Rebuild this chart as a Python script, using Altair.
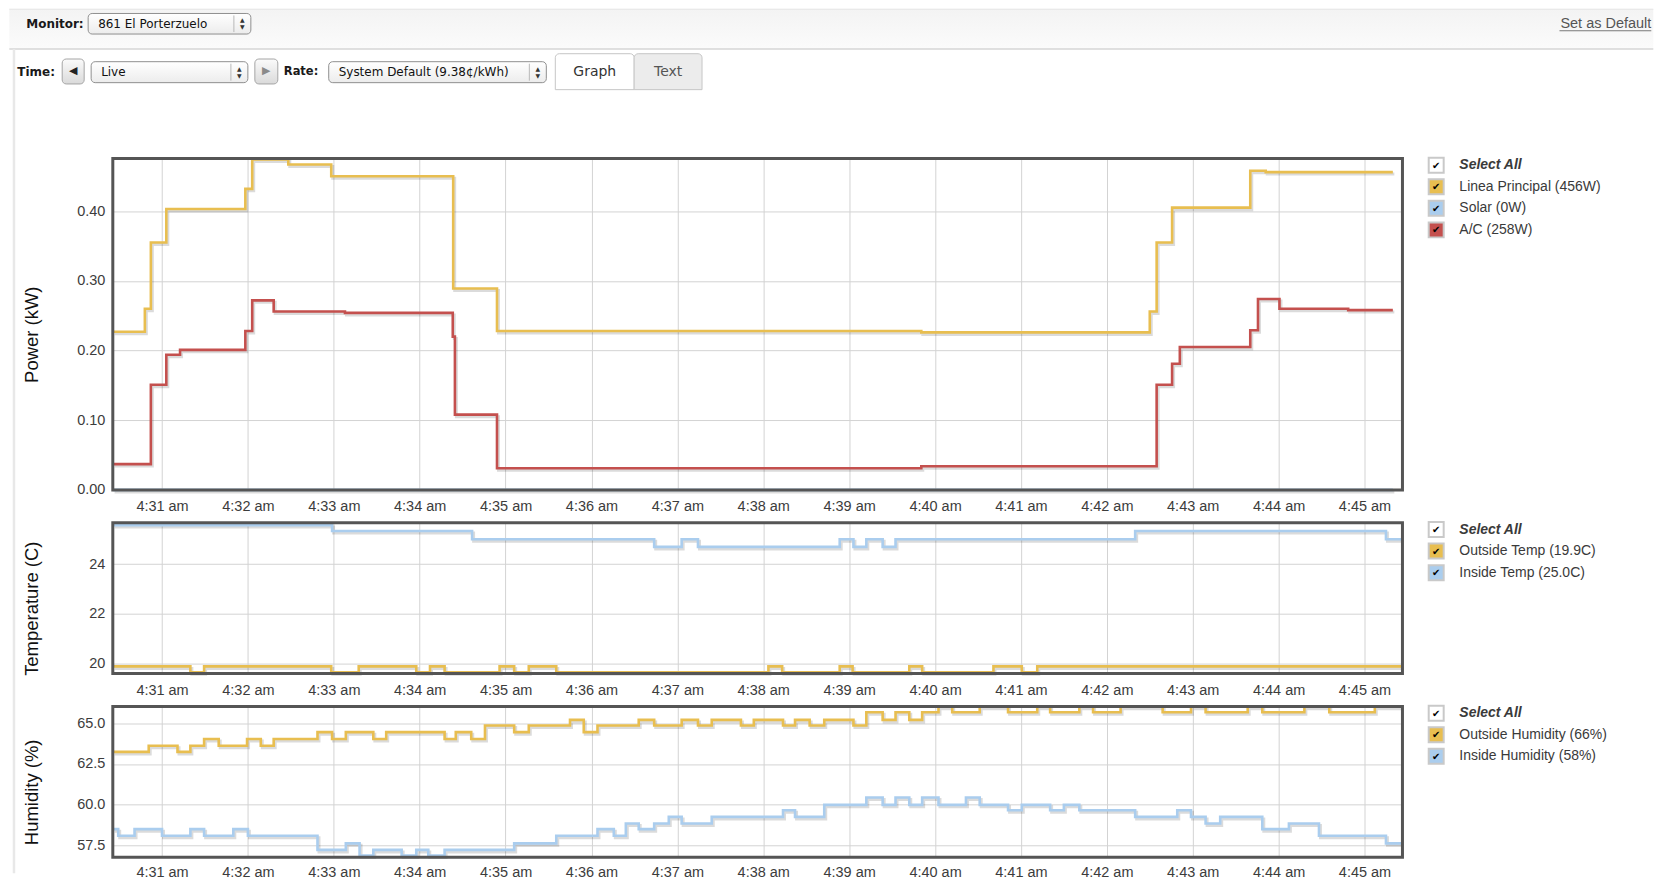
import altair as alt
import pandas as pd

# ---------------- time axis: minutes after 4:30 am ----------------
x_domain = [0.427, 15.442]
x_ticks = list(range(1, 16))          # 4:31 am ... 4:45 am

# ---------------- Power (kW) ----------------
linea_t = [0.43, 0.80, 0.87, 1.05, 1.97, 2.05, 2.47, 2.97, 4.39, 4.90, 9.84,
           12.50, 12.58, 12.76, 13.67, 13.85, 15.33]
linea_kw = [0.227, 0.260, 0.355, 0.403, 0.432, 0.474, 0.467, 0.450, 0.289, 0.228, 0.226,
            0.256, 0.355, 0.405, 0.458, 0.456, 0.456]
solar_t = [0.43, 15.33]
solar_kw = [0.0, 0.0]
ac_t = [0.43, 0.87, 1.05, 1.21, 1.97, 2.05, 2.30, 3.13, 4.385, 4.41, 4.90, 9.84,
        12.58, 12.76, 12.85, 13.67, 13.76, 14.01, 14.81, 15.33]
ac_kw = [0.037, 0.151, 0.194, 0.201, 0.228, 0.272, 0.256, 0.254, 0.220, 0.108, 0.031, 0.034,
         0.151, 0.181, 0.205, 0.229, 0.274, 0.260, 0.258, 0.258]

# ---------------- Temperature (C) ----------------
out_temp_t = [0.43, 1.33, 1.49, 2.97, 3.29, 3.96, 4.12, 4.29, 4.93, 5.10, 5.27, 5.59,
              8.06, 8.22, 8.89, 9.04, 9.70, 9.85, 10.68, 11.01, 11.19, 15.44]
out_temp_c = [19.87, 19.63, 19.87, 19.63, 19.87, 19.63, 19.87, 19.63, 19.87, 19.63, 19.87, 19.63,
              19.87, 19.63, 19.87, 19.63, 19.87, 19.63, 19.87, 19.63, 19.87, 19.87]
in_temp_t = [0.43, 2.98, 4.61, 6.73, 7.05, 7.24, 8.89, 9.05, 9.20, 9.39, 9.54, 12.33, 15.25, 15.44]
in_temp_c = [25.57, 25.33, 25.0, 24.69, 25.0, 24.69, 25.0, 24.69, 25.0, 24.69, 25.0, 25.33, 25.0, 25.0]

# ---------------- Humidity (%) ----------------
out_hum_t = [0.43, 0.845, 1.18, 1.33, 1.49, 1.66, 1.99, 2.15, 2.30, 2.81, 2.98, 3.14, 3.46, 3.61,
             4.29, 4.42, 4.60, 4.76, 5.10, 5.27, 5.75, 5.91, 6.07, 6.55, 6.73, 7.05, 7.24, 7.40,
             7.74, 7.89, 8.23, 8.37, 8.54, 8.71, 9.05, 9.20, 9.39, 9.54, 9.70, 9.85, 10.04, 10.20,
             10.52, 10.85, 11.19, 11.34, 11.68, 11.84, 12.16, 12.65, 12.98, 13.15, 13.64, 13.81,
             14.30, 14.59, 15.12, 15.44]
out_hum_pct = [63.24, 63.62, 63.24, 63.62, 64.03, 63.62, 64.03, 63.62, 64.03, 64.45, 64.03, 64.45,
               64.03, 64.45, 64.03, 64.45, 64.03, 64.86, 64.45, 64.86, 65.2, 64.45, 64.86, 65.2,
               64.86, 65.2, 64.86, 65.2, 64.86, 65.2, 64.86, 65.2, 64.86, 65.2, 64.86, 65.67,
               65.2, 65.67, 65.2, 65.67, 66.01, 65.67, 66.01, 65.67, 66.01, 65.67, 66.01, 65.67,
               66.01, 65.67, 66.01, 65.67, 66.01, 65.67, 66.01, 65.67, 66.01, 66.01]
in_hum_t = [0.43, 0.49, 0.68, 1.00, 1.33, 1.49, 1.83, 2.00, 2.81, 3.14, 3.30, 3.46, 3.79, 3.96,
            4.10, 4.29, 5.10, 5.59, 6.07, 6.26, 6.40, 6.55, 6.73, 6.90, 7.05, 7.40, 8.23, 8.37,
            8.71, 9.20, 9.39, 9.54, 9.70, 9.85, 10.04, 10.36, 10.52, 10.85, 11.01, 11.34, 11.50,
            11.68, 12.33, 12.82, 12.98, 13.15, 13.32, 13.81, 14.12, 14.47, 15.25, 15.44]
in_hum_pct = [58.51, 58.11, 58.51, 58.11, 58.51, 58.11, 58.51, 58.11, 57.24, 57.64, 56.89, 57.24,
              56.89, 57.24, 56.89, 57.24, 57.64, 58.11, 58.51, 58.11, 58.86, 58.51, 58.86, 59.26,
              58.86, 59.26, 59.67, 59.26, 60.0, 60.45, 60.0, 60.45, 60.0, 60.45, 60.0, 60.45,
              60.0, 59.67, 60.0, 59.67, 60.0, 59.67, 59.26, 59.67, 59.26, 58.86, 59.26, 58.51,
              58.86, 58.11, 57.64, 57.64]

YELLOW, BLUE, RED = "#E8BE50", "#AACDEE", "#C4504E"

power_series = ["Solar", "A/C", "Linea Principal"]
power_colors = [BLUE, RED, YELLOW]
power_legend = ["Select All", "Linea Principal (456W)", "Solar (0W)", "A/C (258W)"]
power_legend_colors = ["#FFFFFF", YELLOW, BLUE, RED]

temp_series = ["Inside Temp", "Outside Temp"]
temp_colors = [BLUE, YELLOW]
temp_legend = ["Select All", "Outside Temp (19.9C)", "Inside Temp (25.0C)"]
temp_legend_colors = ["#FFFFFF", YELLOW, BLUE]

hum_series = ["Inside Humidity", "Outside Humidity"]
hum_colors = [BLUE, YELLOW]
hum_legend = ["Select All", "Outside Humidity (66%)", "Inside Humidity (58%)"]
hum_legend_colors = ["#FFFFFF", YELLOW, BLUE]

# header texts
monitor_label = "Monitor:"
monitor_value = "861 El Porterzuelo"
default_link = "Set as Default"
time_label = "Time:"
time_value = "Live"
rate_label = "Rate:"
rate_value = "System Default (9.38¢/kWh)"
tab_labels = ["Graph", "Text"]


def long_frame(names, colors, parts):
    rows = []
    for name, col, (ts, vs) in zip(names, colors, parts):
        for t, v in zip(ts, vs):
            rows.append({"t": t, "v": v, "series": name, "hue": col})
    return pd.DataFrame(rows)


power_df = long_frame(power_series, power_colors,
                      [(solar_t, solar_kw), (ac_t, ac_kw), (linea_t, linea_kw)])
temp_df = long_frame(temp_series, temp_colors,
                     [(in_temp_t, in_temp_c), (out_temp_t, out_temp_c)])
hum_df = long_frame(hum_series, hum_colors,
                    [(in_hum_t, in_hum_pct), (out_hum_t, out_hum_pct)])

# ---------------- layout ----------------
LEFT, TOP = 111.7, 8.0
W = 1292
H0, H1, H2, H3 = 117, 332, 151, 151
GAP = 33
HEAD_FONT = "DejaVu Sans"
FONT = "Liberation Sans"


def X(px):
    return round(px - LEFT, 2)


def Y(py):
    return round(py - TOP, 2)


def one(val="x"):
    return pd.DataFrame({"s": [val]})


def text_at(s, x, y, **kw):
    return alt.Chart(one(s)).mark_text(**kw).encode(text="s:N", x=alt.value(x), y=alt.value(y))


def rect_at(x1, x2, y1, y2, **kw):
    return alt.Chart(one()).mark_rect(**kw).encode(
        x=alt.value(x1), x2=alt.value(x2), y=alt.value(y1), y2=alt.value(y2))


def rule_at(x1, x2, y1, y2, **kw):
    return alt.Chart(one()).mark_rule(**kw).encode(
        x=alt.value(x1), x2=alt.value(x2), y=alt.value(y1), y2=alt.value(y2))


def grad(c1, c2):
    return {"gradient": "linear", "x1": 0, "x2": 0, "y1": 0, "y2": 1,
            "stops": [{"offset": 0, "color": c1}, {"offset": 1, "color": c2}]}


def dropdown(px1, px2, py1, py2, label):
    cy = (py1 + py2) / 2
    return [
        rect_at(X(px1), X(px2), Y(py1), Y(py2), fill=grad("#ffffff", "#ececec"),
                stroke="#8f8f8f", strokeWidth=1, cornerRadius=4),
        text_at(label, X(px1 + 10), Y(cy), align="left", baseline="middle",
                font=HEAD_FONT, fontSize=12, color="#111111"),
        rule_at(X(px2 - 17), X(px2 - 17), Y(py1 + 2), Y(py2 - 2), color="#b8b8b8", strokeWidth=1),
        text_at("▲", X(px2 - 8.5), Y(cy - 3.5), align="center", baseline="middle",
                font=HEAD_FONT, fontSize=6, color="#333333"),
        text_at("▼", X(px2 - 8.5), Y(cy + 3.5), align="center", baseline="middle",
                font=HEAD_FONT, fontSize=6, color="#333333"),
    ]


def button(px1, px2, py1, py2, glyph, color):
    return [
        rect_at(X(px1), X(px2), Y(py1), Y(py2), fill=grad("#fbfbfb", "#dadada"),
                stroke="#a5a5a5", strokeWidth=1, cornerRadius=4),
        text_at(glyph, X((px1 + px2) / 2), Y((py1 + py2) / 2), align="center",
                baseline="middle", font=HEAD_FONT, fontSize=11, color=color),
    ]


header_marks = [
    rect_at(X(8), X(1655), Y(8), Y(48.3), fill=grad("#f3f3f3", "#fbfbfb")),
    rule_at(X(8), X(1655), Y(8.5), Y(8.5), color="#e6e6e6", strokeWidth=1),
    rule_at(X(8), X(1655), Y(48.3), Y(48.3), color="#d6d6d6", strokeWidth=1.5),
    rule_at(X(12.7), X(12.7), Y(48.3), Y(874), color="#e8e8e8", strokeWidth=2.5),
    text_at(monitor_label, X(25), Y(23.5), align="left", baseline="middle",
            font=HEAD_FONT, fontSize=12, fontWeight="bold", color="#1a1a1a"),
    *dropdown(87, 250, 12.7, 33.3, monitor_value),
    text_at(default_link, X(1653), Y(23), align="right", baseline="middle",
            font=FONT, fontSize=14.5, color="#555555"),
    rule_at(X(1561), X(1653), Y(30), Y(30), color="#777777", strokeWidth=1),
    text_at(time_label, X(16), Y(71.7), align="left", baseline="middle",
            font=HEAD_FONT, fontSize=12, fontWeight="bold", color="#1a1a1a"),
    *button(61, 83, 58.3, 83.3, "◀", "#222222"),
    *dropdown(90, 247, 61, 82, time_value),
    *button(254, 277, 58.3, 83.3, "▶", "#8a8a8a"),
    text_at(rate_label, X(283), Y(71.7), align="left", baseline="middle",
            font=HEAD_FONT, fontSize=11.5, fontWeight="bold", color="#1a1a1a"),
    *dropdown(328, 546, 61, 82, rate_value),
    rect_at(X(555), X(634), Y(53), Y(89), fill="#ffffff", stroke="#c6c6c6", strokeWidth=1,
            cornerRadiusTopLeft=4, cornerRadiusTopRight=4),
    rect_at(X(634), X(702), Y(53), Y(89), fill="#ececec", stroke="#c6c6c6", strokeWidth=1,
            cornerRadiusTopLeft=4, cornerRadiusTopRight=4),
    text_at(tab_labels[0], X(594.5), Y(71.5), align="center", baseline="middle",
            font=HEAD_FONT, fontSize=14, color="#333333"),
    text_at(tab_labels[1], X(668), Y(71.5), align="center", baseline="middle",
            font=HEAD_FONT, fontSize=14, color="#555555"),
]
header = alt.layer(*header_marks).properties(width=W, height=H0)

LEG_BOX_X = X(1430)
LEG_TEXT_X = X(1460.7)
LEG_Y0 = 6.7
LEG_DY = 21.6


def legend_marks(labels, colors):
    out = []
    for i, (lab, col) in enumerate(zip(labels, colors)):
        yc = LEG_Y0 + i * LEG_DY
        out.append(rect_at(LEG_BOX_X, LEG_BOX_X + 15, yc - 7.5, yc + 7.5, fill=col,
                           stroke="#c9c9c9", strokeWidth=2))
        out.append(text_at("✔", LEG_BOX_X + 7.5, yc + 0.5, align="center", baseline="middle",
                           font=HEAD_FONT, fontSize=10, color="#000000"))
        out.append(text_at(lab, LEG_TEXT_X, yc, align="left", baseline="middle", font=FONT,
                           fontSize=14, color="#3a3a3a",
                           fontStyle="italic" if i == 0 else "normal",
                           fontWeight="bold" if i == 0 else "normal"))
    return out


def panel(df, ydom, yticks, yfmt, ytitle, h, leg_labels, leg_colors, lab_pad=10):
    xenc = alt.X("t:Q", scale=alt.Scale(domain=x_domain, nice=False, zero=False),
                 axis=alt.Axis(values=x_ticks, labelExpr="'4:' + (30 + datum.value) + ' am'",
                               title=None, labelPadding=lab_pad, labelFlush=False,
                               labelOverlap=False, grid=True))
    yenc = alt.Y("v:Q", scale=alt.Scale(domain=ydom, nice=False, zero=False),
                 axis=alt.Axis(values=yticks, format=yfmt, title=ytitle, titleX=-75.4,
                               titleY=h / 2 + 10, titleAngle=270, titleAlign="center",
                               titleBaseline="alphabetic", labelPadding=8, grid=True))
    base = alt.Chart(df)
    shadow = base.mark_line(interpolate="step-after", color="#000000", opacity=0.14,
                            strokeWidth=3, xOffset=1.5, yOffset=2).encode(
        x=xenc, y=yenc, detail="series:N")
    lines = base.mark_line(interpolate="step-after", strokeWidth=2.6).encode(
        x=xenc, y=yenc, color=alt.Color("hue:N", scale=None), detail="series:N")
    frame = rect_at(0, W, 0, h, fill="transparent", stroke="#555555", strokeWidth=3)
    return alt.layer(shadow, lines, frame, *legend_marks(leg_labels, leg_colors)).properties(
        width=W, height=h)


p_power = panel(power_df, [0, 0.4755], [0, 0.1, 0.2, 0.3, 0.4],
                ".2f", "Power (kW)", H1, power_legend, power_legend_colors)
p_temp = panel(temp_df, [19.58, 25.66], [20, 22, 24], "d",
               "Temperature (C)", H2, temp_legend, temp_legend_colors)
p_hum = panel(hum_df, [56.79, 66.02], [57.5, 60, 62.5, 65], ".1f",
              "Humidity (%)", H3, hum_legend, hum_legend_colors, lab_pad=8)

chart = alt.vconcat(header, p_power, p_temp, p_hum, spacing=GAP, bounds="flush").properties(
    padding=0, background="white"
).configure_view(strokeWidth=0).configure_axis(
    labelFont=FONT, labelFontSize=14.5, labelColor="#3c3c3c",
    titleFont=FONT, titleFontSize=18.5, titleFontWeight="normal", titleColor="#111111",
    gridColor="#d3d3d3", gridWidth=1, domain=False, ticks=False,
)

chart.save("out.html", embed_options={"renderer": "svg", "actions": False})
